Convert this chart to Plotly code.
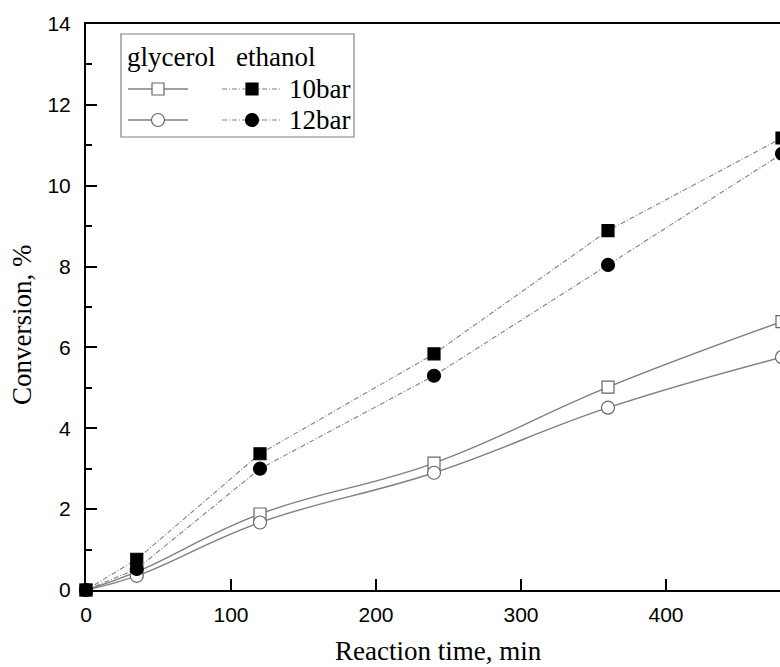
import plotly.graph_objects as go

# ---- data ----
time_min = [0, 35, 120, 240, 360, 480]
glycerol_10bar = [0.0, 0.45, 1.88, 3.14, 5.02, 6.64]
glycerol_12bar = [0.0, 0.35, 1.67, 2.90, 4.51, 5.76]
ethanol_10bar = [0.0, 0.76, 3.37, 5.84, 8.89, 11.18]
ethanol_12bar = [0.0, 0.52, 3.00, 5.30, 8.04, 10.79]
x_ticks = [0, 100, 200, 300, 400]
y_ticks = [0, 2, 4, 6, 8, 10, 12, 14]
legend_header = ["glycerol", "ethanol"]
legend_labels = ["10bar", "12bar"]

W, H = 800, 667          # wider than the 780 viewport: right edge is cropped like the reference
L, T, B = 86, 24, 77
PW, PH = W - L, H - T - B
GRAY = "#808080"
SERIF = "Liberation Serif"
SANS = "Liberation Sans"
DASHDOT = "5px,2px,1px,2px"

fig = go.Figure()

def add(y, symbol, filled, dash, shape):
    fig.add_trace(go.Scatter(
        x=time_min, y=y, mode="lines+markers",
        line=dict(color=GRAY, width=1.4 if dash == "solid" else 1.1, dash=dash, shape=shape, smoothing=1.2),
        marker=dict(symbol=symbol, size=13 if "circle" in symbol else 12,
                    color="black" if filled else "white",
                    line=dict(color="black" if filled else "#666666", width=1.2)),
        cliponaxis=False, showlegend=False))

add(glycerol_10bar, "square", False, "solid", "spline")
add(glycerol_12bar, "circle", False, "solid", "spline")
add(ethanol_10bar, "square", True, DASHDOT, "linear")
add(ethanol_12bar, "circle", True, DASHDOT, "linear")

# ---- legend (drawn on an overlay axis measured in pixels) ----
rows_y = [89, 120]
left_line = (128, 188); left_mark = 158
right_line = (222, 282); right_mark = 252
sym = ["square", "circle"]
for i, yy in enumerate(rows_y):
    fig.add_trace(go.Scatter(x=[left_line[0], left_line[1]], y=[yy, yy], mode="lines",
                             line=dict(color=GRAY, width=1.4), xaxis="x2", yaxis="y2",
                             showlegend=False, hoverinfo="skip"))
    fig.add_trace(go.Scatter(x=[left_mark], y=[yy], mode="markers",
                             marker=dict(symbol=sym[i], size=13 if i else 12, color="white",
                                         line=dict(color="#666666", width=1.2)),
                             xaxis="x2", yaxis="y2", showlegend=False, hoverinfo="skip"))
    fig.add_trace(go.Scatter(x=[right_line[0], right_line[1]], y=[yy, yy], mode="lines",
                             line=dict(color=GRAY, width=1.1, dash=DASHDOT), xaxis="x2", yaxis="y2",
                             showlegend=False, hoverinfo="skip"))
    fig.add_trace(go.Scatter(x=[right_mark], y=[yy], mode="markers",
                             marker=dict(symbol=sym[i], size=13 if i else 12, color="black",
                                         line=dict(color="black", width=1.2)),
                             xaxis="x2", yaxis="y2", showlegend=False, hoverinfo="skip"))

serif_font = dict(family=SERIF, size=27, color="black")
annotations = [
    dict(x=125, y=57, xref="x2", yref="y2", text=legend_header[0], showarrow=False,
         xanchor="left", yanchor="middle", font=serif_font),
    dict(x=234, y=57, xref="x2", yref="y2", text=legend_header[1], showarrow=False,
         xanchor="left", yanchor="middle", font=serif_font),
]
for i, yy in enumerate(rows_y):
    annotations.append(dict(x=287, y=yy, xref="x2", yref="y2", text=legend_labels[i], showarrow=False,
                            xanchor="left", yanchor="middle", font=serif_font))
# axis titles (paper coords are relative to the plot area)
annotations.append(dict(x=(438 - L) / PW, y=(H - B - 651) / PH, xref="paper", yref="paper",
                        text="Reaction time, min", showarrow=False, xanchor="center", yanchor="middle",
                        font=serif_font))
annotations.append(dict(x=(22 - L) / PW, y=(H - B - 325) / PH, xref="paper", yref="paper",
                        text="Conversion, %", showarrow=False, xanchor="center", yanchor="middle",
                        textangle=-90, font=serif_font))

shapes = [dict(type="rect", xref="x2", yref="y2", x0=121, y0=34, x1=354, y1=137,
               line=dict(color=GRAY, width=1.2), fillcolor="rgba(0,0,0,0)")]

x_max = PW / 1.45

fig.update_layout(
    width=W, height=H,
    margin=dict(l=L, r=0, t=T, b=B, pad=0),
    plot_bgcolor="white", paper_bgcolor="white",
    font=dict(family=SANS, size=21, color="black"),
    xaxis=dict(range=[0, x_max], tickvals=x_ticks, ticks="inside", ticklen=11, tickwidth=1.5,
               tickcolor="black", showline=True, linecolor="black", linewidth=2, mirror=True,
               showgrid=False, zeroline=False, tickfont=dict(family=SANS, size=21),
               ticklabelstandoff=5),
    yaxis=dict(range=[0, 14], tickvals=y_ticks, ticks="inside", ticklen=11, tickwidth=1.5,
               tickcolor="black", showline=True, linecolor="black", linewidth=2,
               showgrid=False, zeroline=False, tickfont=dict(family=SANS, size=21),
               ticklabelstandoff=9,
               minor=dict(dtick=1, ticks="inside", ticklen=6, tickwidth=1.5, tickcolor="black",
                          showgrid=False)),
    xaxis2=dict(range=[L, W], overlaying="x", visible=False, fixedrange=True),
    yaxis2=dict(range=[H - B, T], overlaying="y", visible=False, fixedrange=True),
    annotations=annotations,
    shapes=shapes,
)

fig.write_html("out.html", config={"displayModeBar": False},
               post_script="document.body.style.margin='0';document.body.style.overflow='hidden';")
